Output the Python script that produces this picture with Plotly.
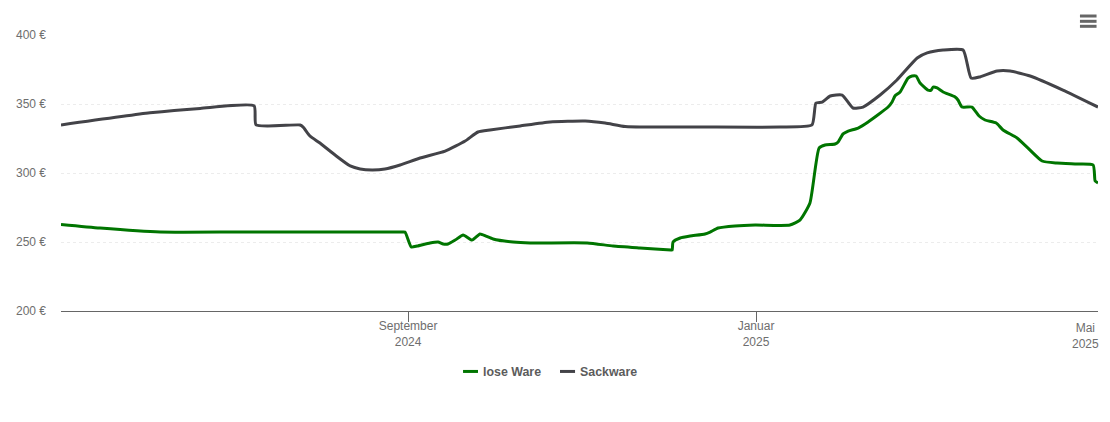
"""Preisverlauf lose Ware / Sackware."""

import pandas as pd
import plotly.graph_objects as go

# Tage relativ zum 1. September 2024
START = pd.Timestamp("2024-09-01")

LOSE_DAYS = [
    -121.7, -108.0, -86.9, -60.0, -30.0, -10.0, -2.5, -1.1, 1.1, 3.2, 7.7, 10.5, 12.3, 14.0, 16.5,
    19.3, 22.4, 25.2, 27.3, 29.8, 36.8, 42.8, 62.8, 71.9, 81.3, 92.2, 92.6, 92.9, 95.4, 98.9,
    104.1, 105.9, 108.7, 114.6, 121.7, 133.9, 137.4, 140.9, 144.1, 146.2, 149.7, 150.8, 152.5,
    154.3, 157.8, 161.3, 168.3, 169.7, 170.7, 172.5, 175.3, 176.7, 178.1, 179.5, 182.3, 183.4,
    184.1, 185.5, 187.6, 191.8, 192.8, 194.2, 197.7, 200.2, 202.3, 206.2, 208.6, 213.5, 217.0,
    222.3, 227.5, 234.5, 240.2, 240.9, 241.9,
]
LOSE_PRICE = [
    262.7, 260.1, 257.2, 257.2, 257.2, 257.2, 257.2, 257.2, 246.4, 247.1, 249.3, 250.0, 248.6,
    248.6, 251.4, 255.1, 251.4, 255.8, 254.3, 252.2, 250.0, 249.3, 249.3, 247.1, 245.7, 244.2,
    244.2, 250.0, 252.9, 254.3, 255.8, 257.2, 260.1, 261.6, 262.3, 262.3, 265.9, 278.3, 318.1,
    320.3, 321.0, 322.5, 328.3, 330.4, 332.6, 337.0, 347.8, 351.4, 355.8, 358.7, 368.8, 370.3,
    370.3, 365.2, 360.1, 360.1, 362.3, 361.6, 358.7, 355.1, 352.9, 347.8, 347.8, 341.3, 338.4,
    336.2, 331.2, 325.4, 318.8, 308.7, 307.2, 306.5, 305.8, 294.2, 292.8,
]

SACK_DAYS = [
    -121.7, -90.5, -72.9, -54.0, -53.3, -37.9, -36.8, -34.4, -30.9, -25.6, -20.3, -16.8,
    -12.6, -8.1, -2.8, 4.2, 13.0, 20.0, 24.5, 28.7, 39.3, 49.8, 62.1, 69.1, 76.1, 84.8, 102.4,
    130.4, 141.6, 143.0, 145.2, 148.0, 152.2, 156.0, 159.5, 165.5, 171.4, 178.5, 182.0, 187.6,
    194.6, 197.4, 200.5, 206.5, 211.1, 218.1, 229.6, 241.9,
]
SACK_PRICE = [
    334.8, 343.6, 346.8, 348.6, 334.8, 334.8, 333.3, 326.8, 321.7, 313.0, 305.1, 302.9,
    302.2, 302.9, 305.8, 310.9, 315.9, 323.2, 329.7, 331.2, 334.1, 337.0, 337.7, 336.2, 333.7,
    333.3, 333.3, 333.3, 334.8, 350.7, 351.4, 355.8, 356.5, 347.1, 347.8, 356.5, 367.4, 383.3,
    387.0, 389.1, 389.1, 368.8, 369.6, 373.9, 373.9, 370.3, 360.1, 347.8,
]

Y_TICKS = [200, 250, 300, 350, 400]
Y_LABELS = ["200 €", "250 €", "300 €", "350 €", "400 €"]
X_TICKS = ["2024-09-01", "2025-01-01", "2025-05-01"]
X_LABELS = ["September<br>2024", "Januar<br>2025", ""]

GREEN = "#007500"
DARK = "#434348"
GREY_TEXT = "#6e6e6e"


def _dates(days: list[float]) -> pd.DatetimeIndex:
    return START + pd.to_timedelta(days, unit="D")


def _legend_item(fig: go.Figure, label: str, color: str, x0: float, x1: float, x_text: float) -> None:
    # Legende von Hand, die Plotly-Legende hat zu lange Linienmuster
    fig.add_shape(
        type="line", xref="paper", yref="paper", x0=x0, x1=x1, y0=-0.219, y1=-0.219,
        line={"color": color, "width": 3},
    )
    fig.add_annotation(
        text=f"<b>{label}</b>", xref="paper", yref="paper", x=x_text, y=-0.222,
        xanchor="left", yanchor="middle", showarrow=False, xshift=-2,
        font={"size": 12.4, "color": "#5c5c5c"},
    )


fig = go.Figure()
fig.add_trace(go.Scatter(
    x=_dates(LOSE_DAYS), y=LOSE_PRICE, name="lose Ware", mode="lines",
    line={"color": GREEN, "width": 3, "shape": "spline", "smoothing": 0.5},
))
fig.add_trace(go.Scatter(
    x=_dates(SACK_DAYS), y=SACK_PRICE, name="Sackware", mode="lines",
    line={"color": DARK, "width": 3, "shape": "spline", "smoothing": 0.5},
))

# Die Seite hat 8 px Rand, deshalb alles um 8 px kleiner
fig.update_layout(
    width=1102,
    height=414,
    margin={"l": 53, "r": 12, "t": 27, "b": 111, "autoexpand": False},
    paper_bgcolor="white",
    plot_bgcolor="white",
    font={"family": "Liberation Sans", "size": 12, "color": GREY_TEXT},
    showlegend=False,
    xaxis={
        "range": [_dates([-121.7])[0], _dates([241.9])[0]],
        "tickvals": X_TICKS,
        "ticktext": X_LABELS,
        "ticks": "outside",
        "ticklen": 10,
        "tickcolor": "#666666",
        "showgrid": False,
        "showline": True,
        "linecolor": "#666666",
        "linewidth": 1,
        "tickangle": 0,
        "ticklabelstandoff": -6,
    },
    yaxis={
        "range": [200, 400],
        "tickvals": Y_TICKS,
        "ticktext": Y_LABELS,
        "ticks": "",
        "gridcolor": "#ececec",
        "griddash": "dot",
        "gridwidth": 1,
        "zeroline": False,
        "showline": False,
        "ticklabelstandoff": 14,
    },
    annotations=[{
        "text": "Mai<br>2025", "xref": "paper", "yref": "paper", "x": 1.0, "y": -0.03, "xshift": 3,
        "xanchor": "right", "yanchor": "top", "align": "center", "showarrow": False,
        "font": {"size": 12, "color": GREY_TEXT},
    }],
)

_legend_item(fig, "lose Ware", GREEN, 0.3877, 0.4021, 0.4069)
_legend_item(fig, "Sackware", DARK, 0.4812, 0.4957, 0.5005)

# Menü-Symbol oben rechts
for y_pos in (1.0315, 1.0496, 1.0688):
    fig.add_shape(
        type="line", xref="paper", yref="paper", x0=0.9826, x1=0.9986, y0=y_pos, y1=y_pos,
        line={"color": "#666666", "width": 3},
    )

fig.write_html("out.html", config={"displayModeBar": False})
